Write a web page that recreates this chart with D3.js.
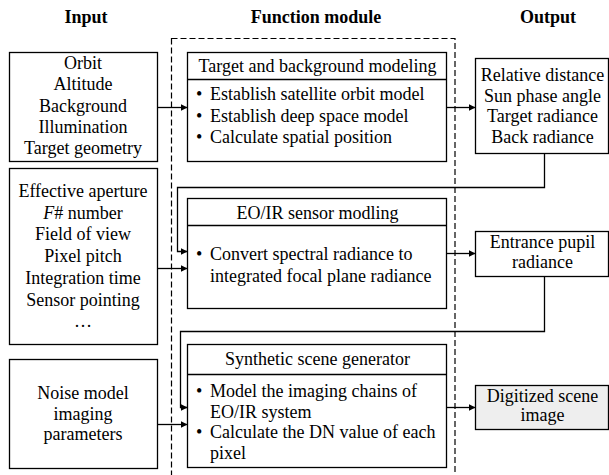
<!DOCTYPE html>
<html>
<head>
<meta charset="utf-8">
<script src="https://cdn.jsdelivr.net/npm/d3@7"></script>
<style>
  body { margin: 0; background: #fff; }
  text { font-family: "Liberation Serif", "Times New Roman", serif; fill: #000; }
</style>
</head>
<body>
<div id="chart-area"></div>
<script>
var width = 609, height = 475;

// column titles
var titles = ['Input', 'Function module', 'Output'];

// input parameter lists (one per row)
var inputs = [
	['Orbit', 'Altitude', 'Background', 'Illumination', 'Target geometry'],
	['Effective aperture', '#F# number', 'Field of view', 'Pixel pitch', 'Integration time', 'Sensor pointing', '…'],
	['Noise model', 'imaging', 'parameters']
];

// function modules: header + bullet items (each item may wrap to several lines)
var moduleHeaders = ['Target and background modeling', 'EO/IR sensor modling', 'Synthetic scene generator'];
var moduleBullets = [
	[['Establish satellite orbit model'], ['Establish deep space model'], ['Calculate spatial position']],
	[['Convert spectral radiance to', 'integrated focal plane radiance']],
	[['Model the imaging chains of', 'EO/IR system'], ['Calculate the DN value of each', 'pixel']]
];

// outputs
var outputs = [
	['Relative distance', 'Sun phase angle', 'Target radiance', 'Back radiance'],
	['Entrance pupil', 'radiance'],
	['Digitized scene', 'image']
];

// ---- layout ----
var col = {
	input: { x0: 9, x1: 157 },
	module: { x0: 187, x1: 446 },
	output: { x0: 475, x1: 608 }
};
var titleX = [86, 316, 548];
var rows = [
	{ input: [52, 161], module: [52, 161, 79], output: [58, 153], inArrow: 107, outArrow: 107,
	  inLine: [69, 21.3], headBase: 72, bulletBase: [100, 21.5], outLine: [81, 20.7] },
	{ input: [168, 344], module: [198, 308, 225], output: [231, 276], inArrow: 268, outArrow: 253,
	  inLine: [197, 21.7], headBase: 219, bulletBase: [260, 21.5], outLine: [248, 19.5], back: [187, 177, 251] },
	{ input: [359, 468], module: [344, 467, 374], output: [385, 429], inArrow: 424, outArrow: 407,
	  inLine: [399, 20.5], headBase: 365, bulletBase: [397, 20.5], outLine: [402, 19], back: [331, 180, 407] }
];
var fontSize = 18;

var svg = d3.select('#chart-area')
	.append('svg')
	.attr('width', width)
	.attr('height', height);

svg.append('defs').append('marker')
	.attr('id', 'arrow')
	.attr('viewBox', '0 0 10 10')
	.attr('refX', 10)
	.attr('refY', 5)
	.attr('markerWidth', 7)
	.attr('markerHeight', 7)
	.attr('markerUnits', 'userSpaceOnUse')
	.attr('orient', 'auto')
	.append('path')
	.attr('d', 'M0,0 L10,5 L0,10 Z')
	.attr('fill', '#000');

// titles
svg.selectAll('.title')
	.data(titles)
	.enter().append('text')
	.attr('class', 'title')
	.attr('x', (d, i) => titleX[i])
	.attr('y', 23)
	.attr('text-anchor', 'middle')
	.attr('font-size', fontSize + 'px')
	.attr('font-weight', 'bold')
	.text(d => d);

// dashed function module frame
svg.append('rect')
	.attr('x', 171.5)
	.attr('y', 38.5)
	.attr('width', 455 - 171.5)
	.attr('height', 480)
	.attr('fill', 'none')
	.attr('stroke', '#000')
	.attr('stroke-width', 1.2)
	.attr('stroke-dasharray', '6,3');

function box(x0, y0, x1, y1, fill) {
	svg.append('rect')
		.attr('x', x0 + 0.5).attr('y', y0 + 0.5)
		.attr('width', x1 - x0).attr('height', y1 - y0)
		.attr('fill', fill || '#fff')
		.attr('stroke', '#000')
		.attr('stroke-width', 1.3);
}

function lines(list, cx, base, step, anchor) {
	list.forEach((t, i) => {
		var txt = svg.append('text')
			.attr('x', cx)
			.attr('y', base + i * step)
			.attr('text-anchor', anchor || 'middle')
			.attr('font-size', fontSize + 'px');
		if (t.charAt(0) === '#') {
			// italic leading letter (F# number)
			txt.append('tspan').attr('font-style', 'italic').text(t.charAt(1));
			txt.append('tspan').text(t.slice(2));
		} else {
			txt.text(t);
		}
	});
}

function arrow(points) {
	svg.append('path')
		.attr('d', d3.line()(points))
		.attr('fill', 'none')
		.attr('stroke', '#000')
		.attr('stroke-width', 1.3)
		.attr('marker-end', 'url(#arrow)');
}

rows.forEach((r, i) => {
	// input box
	box(col.input.x0, r.input[0], col.input.x1, r.input[1]);
	lines(inputs[i], (col.input.x0 + col.input.x1) / 2, r.inLine[0], r.inLine[1]);

	// module box with header
	box(col.module.x0, r.module[0], col.module.x1, r.module[1]);
	svg.append('line')
		.attr('x1', col.module.x0).attr('x2', col.module.x1 + 1)
		.attr('y1', r.module[2] + 0.5).attr('y2', r.module[2] + 0.5)
		.attr('stroke', '#000').attr('stroke-width', 1.3);
	lines([moduleHeaders[i]], (col.module.x0 + col.module.x1) / 2 + 1, r.headBase, 0);
	var k = 0;
	moduleBullets[i].forEach(item => {
		var y = r.bulletBase[0] + k * r.bulletBase[1];
		svg.append('text')
			.attr('x', 196).attr('y', y)
			.attr('font-size', fontSize + 'px')
			.text('•');
		lines(item, 210, y, r.bulletBase[1], 'start');
		k += item.length;
	});

	// output box
	box(col.output.x0, r.output[0], col.output.x1, r.output[1], i === 2 ? '#eeeeee' : '#fff');
	lines(outputs[i], (col.output.x0 + col.output.x1) / 2 + 1, r.outLine[0], r.outLine[1]);

	// arrows
	arrow([[col.input.x1 + 0.5, r.inArrow + 0.5], [col.module.x0 + 0.5, r.inArrow + 0.5]]);
	arrow([[col.module.x1 + 0.5, r.outArrow + 0.5], [col.output.x0 + 0.5, r.outArrow + 0.5]]);

	// feedback from previous output
	if (r.back) {
		var prev = rows[i - 1];
		var cx = 544.5;
		arrow([[cx, prev.output[1] + 0.5], [cx, r.back[0] + 0.5], [r.back[1] + 0.5, r.back[0] + 0.5],
			[r.back[1] + 0.5, r.back[2] + 0.5], [col.module.x0 + 0.5, r.back[2] + 0.5]]);
	}
});
</script>
</body>
</html>
